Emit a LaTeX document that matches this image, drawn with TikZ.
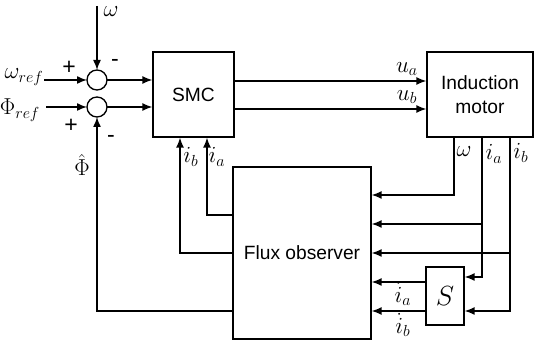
\documentclass[tikz,border=0pt]{standalone}
\usepackage{fontspec}
\setmainfont{Liberation Sans}
\usepackage{tikz}
\usetikzlibrary{arrows.meta}
\usetikzlibrary{positioning}
\usetikzlibrary{calc}
\tikzset{
block/.style = {draw, line width=1pt, inner sep=0pt, align=center, font=\Large},
sum/.style = {circle, draw, line width=1pt, minimum size=#1,
              inner sep=0pt, outer sep=0pt},
sum/.default = 15pt, % circle diameter
sig/.style = {-{Latex[length=7.5pt,width=6pt]}, line width=1.1pt},
lbl/.style = {font=\LARGE, inner sep=0pt}
}
\newcommand{\blk}[5]{\node[block, minimum width=#3, minimum height=#4] (#1) at (#2) {#5};}
\newcommand{\lab}[3]{\node[lbl] (#1) at (#2) {#3};}

\begin{document}
\begin{tikzpicture}[x=0.75pt, y=-0.75pt]
        \useasboundingbox (0,0) rectangle (535,341);
        \blk{smc}{193.5,94.5}{60.75pt}{63.75pt}{SMC};
        \blk{mot}{480,94.5}{79.5pt}{63.75pt}{Induction\\motor};
        \blk{obs}{302,253}{103.5pt}{129pt}{Flux observer};
        \blk{S}{445,296}{28.5pt}{43.5pt}{\huge$S$};
        \node[sum] (s1) at (97,80) {};
        \node[sum] (s2) at (97,107) {};
        \coordinate (w) at (97,6);
        \coordinate (wr) at (44,80);
        \coordinate (fr) at (46,107);
        \coordinate (ua) at (300,81);
        \coordinate (ub) at (300,109);
        \coordinate (ia) at (207,215);
        \coordinate (ib) at (180,253);
        \coordinate (fh) at (97,311);
        \coordinate (mw) at (454,195);
        \coordinate (ma) at (482,224);
        \coordinate (mb) at (510,253);
        \coordinate (sa) at (482,277);
        \coordinate (sb) at (510,311);
        \coordinate (da) at (420,282);
        \coordinate (db) at (420,311);
        % references and feedback
        \draw[sig] (w) -- (s1);
        \draw[sig] (wr) -- (s1);
        \draw[sig] (fr) -- (s2);
        \draw[sig] (s1) -- (s1 -| smc.west);
        \draw[sig] (s2) -- (s2 -| smc.west);
        \draw[sig] (obs.west |- fh) -| (s2.south);
        \draw[sig] (obs.west |- ia) -| (smc.south -| ia);
        \draw[sig] (obs.west |- ib) -| (smc.south -| ib);
        \draw[sig] (smc.east |- ua) -- (mot.west |- ua);
        \draw[sig] (smc.east |- ub) -- (mot.west |- ub);
        % motor outputs
        \draw[sig] (mot.south -| mw) |- (obs.east |- mw);
        \draw[sig] (mot.south -| ma) |- (S.east |- sa);
        \draw[sig] (mot.south -| mb) |- (S.east |- sb);
        \draw[sig] (ma) -- (obs.east |- ma);
        \draw[sig] (mb) -- (obs.east |- mb);
        \draw[sig] (S.west |- da) -- (obs.east |- da);
        \draw[sig] (S.west |- db) -- (obs.east |- db);
        % labels
        \lab{lw}{111,12}{$\omega$};
        \lab{lwr}{24,77}{$\omega_{ref}$};
        \lab{lfr}{20,110}{$\Phi_{ref}$};
        \lab{p1}{69,68}{+};
        \lab{m1}{115,63}{-};
        \lab{p2}{71,126}{+};
        \lab{m2}{111,139}{-};
        \lab{lfh}{82,165}{$\hat{\Phi}$};
        \lab{lib}{191,157}{$i_b$};
        \lab{lia}{217,157}{$i_a$};
        \lab{lua}{407,69}{$u_a$};
        \lab{lub}{407,97}{$u_b$};
        \lab{lmw}{464,152}{$\omega$};
        \lab{lma}{494,154}{$i_a$};
        \lab{lmb}{521,153}{$i_b$};
        \lab{lda}{403,294}{$\dot{i}_a$};
        \lab{ldb}{403,325}{$\dot{i}_b$};
\end{tikzpicture}
\end{document}
